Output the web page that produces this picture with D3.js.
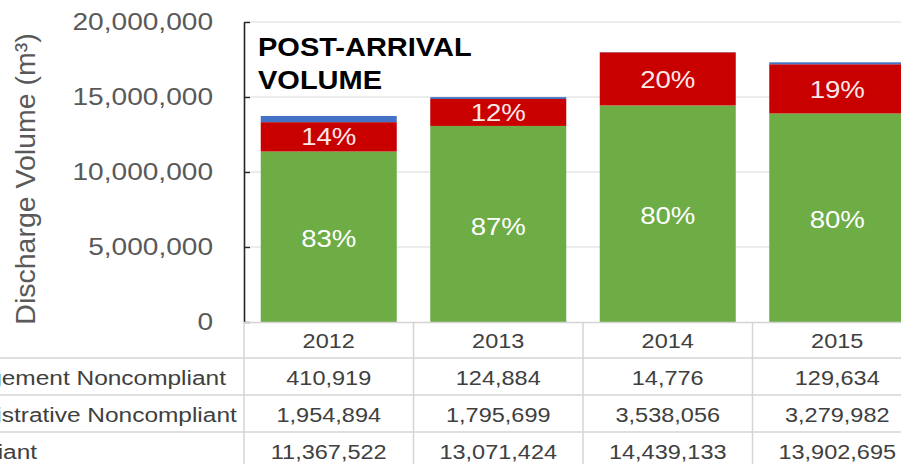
<!DOCTYPE html>
<html>
<head>
<meta charset="utf-8">
<script src="https://cdn.jsdelivr.net/npm/d3@7"></script>
<style>
  html, body { margin: 0; padding: 0; background: #fff; overflow: hidden; }
  svg { display: block; font-family: "Liberation Sans", Arial, sans-serif; }
</style>
</head>
<body>
<svg id="chart" width="901" height="464"></svg>
<script>
// ---- data ----
const years = ["2012", "2013", "2014", "2015"];
const seriesNames = ["Management Noncompliant", "Administrative Noncompliant", "Compliant"];
const managementNC = [410919, 124884, 14776, 129634];
const administrativeNC = [1954894, 1795699, 3538056, 3279982];
const compliant = [11367522, 13071424, 14439133, 13902695];
const compliantPct = ["83%", "87%", "80%", "80%"];
const administrativePct = ["14%", "12%", "20%", "19%"];
const yTicks = [0, 5000000, 10000000, 15000000, 20000000];
const chartTitle = ["POST-ARRIVAL", "VOLUME"];
const yTitle = "Discharge Volume (m³)";

// ---- layout ----
const W = 901, H = 464;
const axisX = 244;
const y0 = 322, yTop = 22;
const colW = 169.5;
const sx = 1.15; // horizontal text stretch seen in the reference

const colors = { "Compliant": "#6EAC46", "Administrative Noncompliant": "#C80000", "Management Noncompliant": "#4472C4" };

const svg = d3.select("#chart");

const x = d3.scaleBand().domain(years).range([axisX, axisX + colW * years.length]).padding(0);
const barW = 136;
const y = d3.scaleLinear().domain([0, 20000000]).range([y0, yTop]);

const rows = years.map((yr, i) => ({
  year: yr,
  "Compliant": compliant[i],
  "Administrative Noncompliant": administrativeNC[i],
  "Management Noncompliant": managementNC[i]
}));
const stackKeys = ["Compliant", "Administrative Noncompliant", "Management Noncompliant"];
const stacked = d3.stack().keys(stackKeys)(rows);

// gridlines
svg.append("g").selectAll("line").data(yTicks.filter(d => d > 0)).join("line")
  .attr("x1", axisX).attr("x2", W)
  .attr("y1", d => y(d)).attr("y2", d => y(d))
  .attr("stroke", "#d9d9d9").attr("stroke-width", 1.2);

// bars
const barX = yr => x(yr) + (x.bandwidth() - barW) / 2;
svg.append("g").selectAll("g").data(stacked).join("g")
  .attr("fill", d => colors[d.key])
  .selectAll("rect").data(d => d).join("rect")
  .attr("x", d => barX(d.data.year))
  .attr("width", barW)
  .attr("y", d => y(d[1]))
  .attr("height", d => y(d[0]) - y(d[1]));

// y axis
const yAxis = svg.append("g")
  .attr("transform", `translate(${axisX},0)`)
  .call(d3.axisLeft(y).tickValues(yTicks).tickFormat(d3.format(",")).tickSizeInner(-6).tickSizeOuter(0).tickPadding(31));
yAxis.select(".domain").attr("stroke", "#262626").attr("stroke-width", 1.6);
yAxis.selectAll(".tick line").attr("stroke", "#262626").attr("stroke-width", 1.4);
yAxis.selectAll(".tick text")
  .attr("x", -31 / 1.17)
  .attr("transform", "scale(1.17,1)")
  .attr("font-size", 24)
  .attr("fill", "#595959")
  .attr("font-family", "Liberation Sans, Arial, sans-serif");

// y title
svg.append("text")
  .attr("transform", "translate(35,179) rotate(-90)")
  .attr("text-anchor", "middle")
  .attr("font-size", 28.5)
  .attr("fill", "#595959")
  .text(yTitle);

// chart title
svg.append("g").selectAll("text").data(chartTitle).join("text")
  .attr("transform", (d, i) => `translate(258,${56 + i * 33}) scale(1.16,1)`)
  .attr("font-size", 25)
  .attr("font-weight", "bold")
  .attr("fill", "#000")
  .text(d => d);

// percentage labels
const compLayer = stacked[0], admLayer = stacked[1];
svg.append("g").selectAll("text").data(compLayer).join("text")
  .attr("transform", d => `translate(${x(d.data.year) + x.bandwidth() / 2},${(y(d[0]) + y(d[1])) / 2 + 2}) scale(${sx},1)`)
  .attr("text-anchor", "middle").attr("dy", "0.36em")
  .attr("font-size", 24).attr("fill", "#ffffff")
  .text((d, i) => compliantPct[i]);
svg.append("g").selectAll("text").data(admLayer).join("text")
  .attr("transform", d => `translate(${x(d.data.year) + x.bandwidth() / 2},${(y(d[0]) + y(d[1])) / 2}) scale(${sx},1)`)
  .attr("text-anchor", "middle").attr("dy", "0.36em")
  .attr("font-size", 24).attr("fill", "#fbe8e8")
  .text((d, i) => administrativePct[i]);

// ---- data table ----
const tableTop = y0;
const headerH = 36;
const rowH = 37;
const tableLines = svg.append("g").attr("stroke", "#d4d4d4").attr("stroke-width", 1.5);
// x axis line / table top
tableLines.append("line").attr("x1", axisX).attr("x2", W).attr("y1", tableTop + 0.5).attr("y2", tableTop + 0.5);
// vertical column lines
tableLines.selectAll("line.v").data(years).join("line").attr("class", "v")
  .attr("x1", d => x(d)).attr("x2", d => x(d))
  .attr("y1", tableTop).attr("y2", H);
// horizontal row lines
const rowTops = seriesNames.map((s, i) => tableTop + headerH + i * rowH);
tableLines.selectAll("line.h").data(rowTops).join("line").attr("class", "h")
  .attr("x1", 0).attr("x2", W)
  .attr("y1", d => d).attr("y2", d => d);

// header years
svg.append("g").selectAll("text").data(years).join("text")
  .attr("transform", d => `translate(${x(d) + x.bandwidth() / 2},${tableTop + 26}) scale(1.12,1)`)
  .attr("text-anchor", "middle")
  .attr("font-size", 21).attr("fill", "#404040")
  .text(d => d);

const tableSeries = [managementNC, administrativeNC, compliant];
const fmt = d3.format(",");
tableSeries.forEach((vals, r) => {
  const base = rowTops[r] + 27;
  svg.append("text")
    .attr("transform", `translate(-73,${base}) scale(1.165,1)`)
    .attr("font-size", 21).attr("fill", "#404040")
    .text(seriesNames[r]);
  svg.append("g").selectAll("text").data(vals).join("text")
    .attr("transform", (d, i) => `translate(${x(years[i]) + x.bandwidth() / 2},${base}) scale(1.12,1)`)
    .attr("text-anchor", "middle")
    .attr("font-size", 21).attr("fill", "#404040")
    .text(d => fmt(d));
});
</script>
</body>
</html>
